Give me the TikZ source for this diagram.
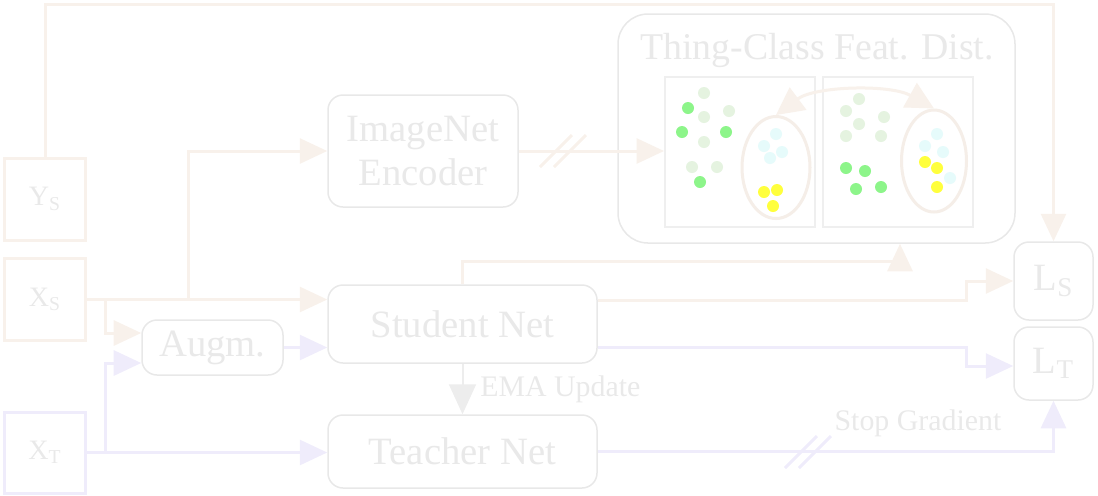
\documentclass[tikz,border=0pt]{standalone}
\usepackage{fontspec}
\setmainfont{Liberation Serif}
\usetikzlibrary{arrows.meta,positioning,shapes.geometric}
\definecolor{Src}{HTML}{F8F1EB}
\definecolor{Tgt}{HTML}{EFECFB}
\definecolor{Edge}{HTML}{E8E8E8}
\definecolor{Ink}{HTML}{E9E9E9}
\definecolor{Panel}{HTML}{EFEFEF}
\definecolor{Leaf}{HTML}{8DF58A}
\definecolor{PaleLeaf}{HTML}{E5F3E0}
\definecolor{Ice}{HTML}{E6FBFB}
\definecolor{Lemon}{HTML}{FFFF3D}
\definecolor{Ring}{HTML}{F5EEE8}
\definecolor{Ema}{HTML}{EDEDED}
\begin{document}
\begin{tikzpicture}[x=0.2mm,y=-0.2mm,
    io/.style={draw,line width=0.6mm,minimum width=16mm,minimum height=16.4mm,inner sep=0pt,text=Ink,font=\fontsize{16}{18}\selectfont},
    net/.style={draw=Edge,line width=0.3mm,rounded corners=3mm,fill=white,inner sep=0pt,align=center,text=Ink,font=\fontsize{22}{25}\selectfont},
    pane/.style={draw=Panel,line width=0.4mm,minimum width=30mm,minimum height=30mm,inner sep=0pt},
    ring/.style={ellipse,draw=Ring,line width=0.6mm,inner sep=0pt},
    tag/.style={text=Ink,font=\fontsize{17}{19}\selectfont,inner sep=1pt},
    sa/.style={-{Triangle[length=5.5mm,width=5mm]},line width=0.6mm,draw=Src},
    ta/.style={-{Triangle[length=5.5mm,width=5mm]},line width=0.6mm,draw=Tgt},
    brk/.pic={\draw[line width=0.6mm,pic actions] (-23,16) -- (9,-16) (-9,16) -- (23,-16);}]
  \useasboundingbox (0,0) rectangle (1098,495);
  % inputs
  \node[io,draw=Src] (ys) at (45,199) {Y\textsubscript{S}};
  \node[io,draw=Src] (xs) at (45,299.5) {X\textsubscript{S}};
  \node[io,draw=Tgt,minimum height=16.2mm] (xt) at (45,452.5) {X\textsubscript{T}};
  % networks
  \node[net,minimum width=38mm,minimum height=22.4mm] (enc) at (423,151) {ImageNet\\Encoder};
  \node[net,minimum width=28.2mm,minimum height=11mm] (aug) at (212.5,347.5) {Augm.};
  \node[net,minimum width=53.8mm,minimum height=15.6mm] (stu) at (462.5,324) {Student Net};
  \node[net,minimum width=53.8mm,minimum height=14.6mm] (tea) at (462.5,451.5) {Teacher Net};
  \node[net,minimum width=15.8mm,minimum height=15.6mm] (ls) at (1053.5,281) {L\textsubscript{S}};
  \node[net,minimum width=15.8mm,minimum height=14.6mm] (lt) at (1053.5,363.5) {L\textsubscript{T}};
  % feature distribution
  \node[net,rounded corners=6mm,minimum width=79.4mm,minimum height=45.8mm] (dist) at (816.5,128.5) {};
  \node[tag,font=\fontsize{21.5}{24}\selectfont] (title) at (817,50) {Thing-Class Feat. Dist.};
  \node[pane] (lp) at (740,152) {};
  \node[pane] (rp) at (898,152) {};
  \node[ring,minimum width=13.6mm,minimum height=20.4mm] (c1) at (776,167.5) {};
  \node[ring,minimum width=13mm,minimum height=20.4mm] (c2) at (934,161) {};
  \foreach \p in {(704,93),(704,117),(729,111),(704,142),(692,167),(717,167),
                  (859,99),(846,111),(859,124),(884,117),(846,136),(881,136)}
    \fill[PaleLeaf] \p circle[radius=1.2mm];
  \foreach \p in {(688,108),(682,132),(726,132),(700,182),
                  (846,168),(865,171),(856,189),(881,187)}
    \fill[Leaf] \p circle[radius=1.2mm];
  \foreach \p in {(776,134),(764,146),(782,152),(770,158),
                  (937,134),(925,146),(943,152),(950,178)}
    \fill[Ice] \p circle[radius=1.2mm];
  \foreach \p in {(764,192),(777,190),(773,206),
                  (925,162),(937,168),(937,187)}
    \fill[Lemon] \p circle[radius=1.2mm];
  \draw[sa,{Triangle[length=5.5mm,width=5.5mm]}-{Triangle[length=5.5mm,width=5.5mm]}]
    (c1.north) .. controls (815,86) and (890,84) .. (c2.north);
  % connectors
  \coordinate (top) at (500,4);
  \coordinate (up) at (188,0);
  \coordinate (dn) at (105,0);
  \coordinate (mid) at (900,261);
  \draw[sa] (ys.north) |- (top) -| (ls.north);
  \draw[sa] (xs.east) -- (xs.east -| stu.west);
  \draw[sa] (xs.east -| up) |- (enc.west);
  \draw[sa] (xs.east -| dn) |- ([yshift=2.9mm]aug.west);
  \draw[ta] (xt.east) -- (xt.east -| tea.west);
  \draw[ta] (xt.east -| dn) |- ([yshift=-3.1mm]aug.west);
  \draw[ta] (aug.east) -- (aug.east -| stu.west);
  \draw[sa] (enc.east) -- (enc.east -| lp.west);
  \path (563,151) pic[draw=Src]{brk};
  \draw[sa] (stu.north) |- (mid) -- (mid |- dist.south);
  \draw[sa] ([yshift=4.8mm]stu.east) -- ++(369,0) |- (ls.west);
  \draw[ta] ([yshift=-4.6mm]stu.east) -- ++(369,0) |- ([yshift=-0.5mm]lt.west);
  \draw[ta] (tea.east) -| (lt.south);
  \path (808,452) pic[draw=Tgt]{brk};
  \node[tag] (stop) at (918,423) {Stop Gradient};
  \draw[-{Triangle[length=6mm,width=5.4mm]},line width=0.4mm,draw=Ema] (stu.south) -- (tea.north)
    node[tag,midway,right=3mm] (ema) {EMA Update};
\end{tikzpicture}
\end{document}
